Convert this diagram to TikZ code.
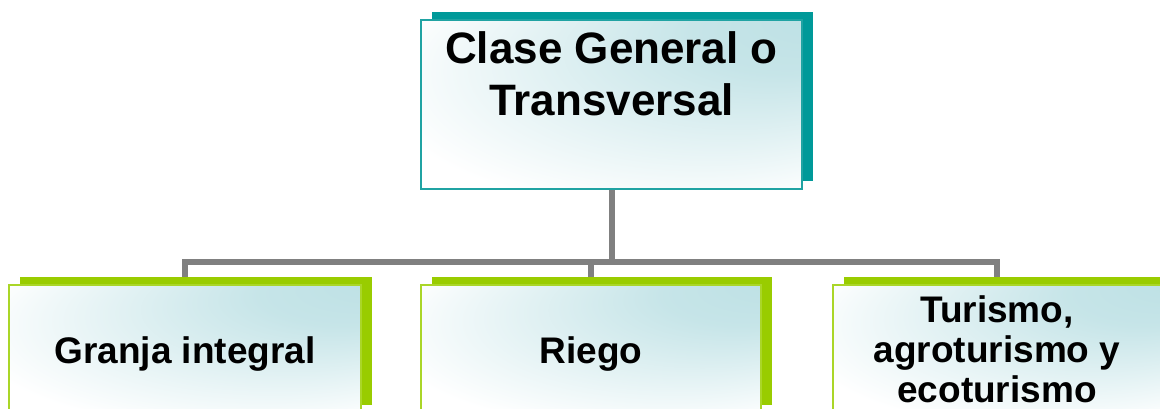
\documentclass[tikz,border=0pt]{standalone}
\usepackage{fontspec}
\setmainfont{Liberation Sans}
\usetikzlibrary{shadows,backgrounds}
\definecolor{tealdk}{RGB}{0,153,153}
\definecolor{tealln}{RGB}{32,163,163}
\definecolor{limegr}{RGB}{153,204,0}
\definecolor{limeln}{RGB}{170,214,40}
\definecolor{glow}{RGB}{188,224,228}
\definecolor{connGrey}{RGB}{128,128,128}
\pgfdeclareradialshading{boxglow}{\pgfpoint{30bp}{28bp}}{color(0bp)=(glow); color(12bp)=(glow!85!white); color(38bp)=(white); color(50bp)=(white)}

\begin{document}
\begin{tikzpicture}[x=1pt,y=1pt,
  box/.style={rectangle, inner sep=0pt, outer sep=0pt, shade, shading=boxglow, line width=1.5pt, align=center},
  topbox/.style={box, draw=tealln, minimum width=381pt, minimum height=169pt, general shadow={fill=tealdk, shadow xshift=11pt, shadow yshift=8pt}},
  subbox/.style={box, draw=limeln, minimum height=128pt, font=\fontsize{37}{40}\selectfont\bfseries, general shadow={fill=limegr, shadow xshift=11pt, shadow yshift=8pt}},
  conn/.style={draw=connGrey, line width=6pt}]
\useasboundingbox (0,0) rectangle (1160,408);

\node[topbox] (clase) at (611.5,303.5) {};
\node[font=\fontsize{44}{52}\selectfont\bfseries, align=center, inner sep=0pt] (claseTxt) at (611.5,334) {Clase General o\\Transversal};

\node[subbox, minimum width=352pt, text height=37pt] (granja) at (185,59) {Granja integral};
\node[subbox, minimum width=340pt, text height=37pt] (riego) at (591,59) {Riego};
\node[subbox, minimum width=328pt] (turismo) at (997,59) {Turismo,\\agroturismo y\\ecoturismo};

\begin{scope}[on background layer]
\draw[conn] (clase.south) -- ++(0,-73) coordinate (hub);
\draw[conn] (granja.north) |- (hub) -| (turismo.north);
\draw[conn] (riego.north) -- (riego.north |- hub);
\end{scope}
\end{tikzpicture}
\end{document}
